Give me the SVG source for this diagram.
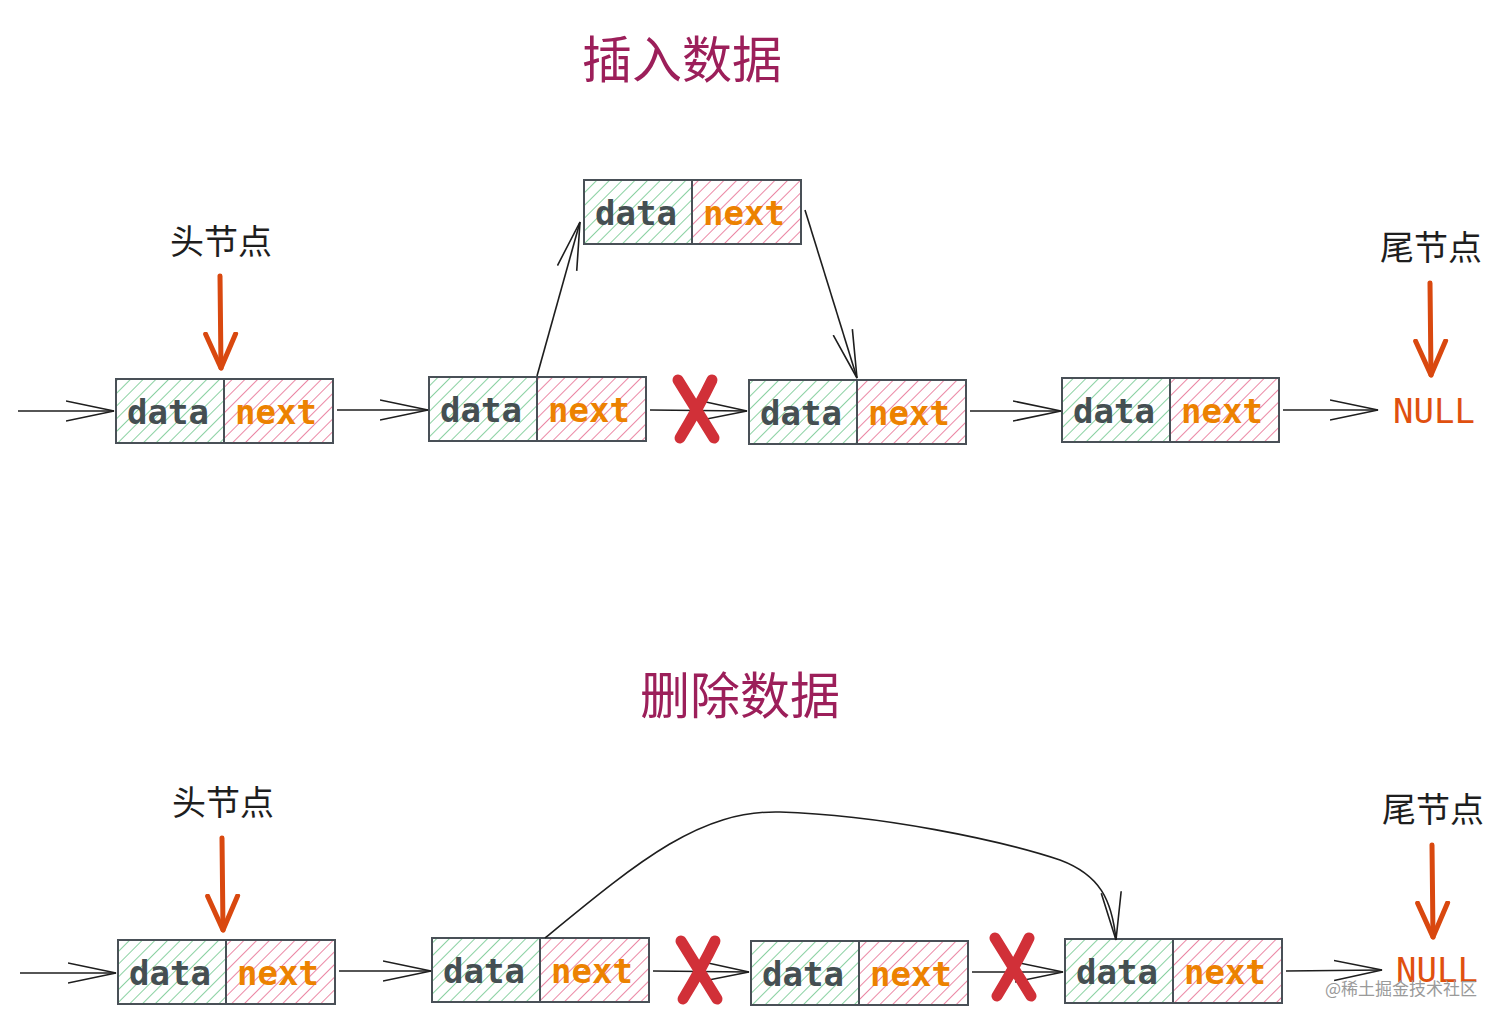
<svg xmlns="http://www.w3.org/2000/svg" width="1512" height="1024" viewBox="0 0 1512 1024">
<defs>
<pattern id="hg" width="9" height="9" patternUnits="userSpaceOnUse" patternTransform="rotate(45)"><rect width="9" height="9" fill="#fff"/><line x1="0" y1="0" x2="0" y2="9" stroke="#6cc68a" stroke-width="1.6"/></pattern>
<pattern id="hr" width="9" height="9" patternUnits="userSpaceOnUse" patternTransform="rotate(45)"><rect width="9" height="9" fill="#fff"/><line x1="0" y1="0" x2="0" y2="9" stroke="#e66a8e" stroke-width="1.6"/></pattern>
<marker id="a" markerWidth="50" markerHeight="40" refX="48" refY="20" orient="auto" markerUnits="userSpaceOnUse"><polyline points="0,10 48,20 0,30" fill="none" stroke="#1e1e1e" stroke-width="1.6"/></marker>
<marker id="h" markerWidth="40" markerHeight="40" refX="36" refY="20" orient="auto" markerUnits="userSpaceOnUse"><polyline points="2,5 36,20 2,35" fill="none" stroke="#d9480f" stroke-width="5" stroke-linecap="round" stroke-linejoin="round"/></marker>
</defs>
<style>
.d{fill:url(#hg);stroke:#495057;stroke-width:2}
.n{fill:url(#hr);stroke:#495057;stroke-width:2}
.td{font-family:"DejaVu Sans Mono",monospace;font-size:34px;font-weight:bold;fill:#454f52}
.tn{font-family:"DejaVu Sans Mono",monospace;font-size:34px;font-weight:bold;fill:#ec8200}
.c{fill:none;stroke:#1e1e1e;stroke-width:1.6}
.lbl{font-family:"Noto Sans CJK SC",sans-serif;font-size:34px;fill:#1e1e1e}
.title{font-family:"Noto Sans CJK SC",sans-serif;font-size:50px;fill:#9c1f5a}
.x{fill:none;stroke:#d13038;stroke-width:11;stroke-linecap:round}
.ha{fill:none;stroke:#d9480f;stroke-width:5;stroke-linecap:round}
</style>
<text class="title" x="582" y="78">插入数据</text>
<text class="title" x="640" y="714">删除数据</text>

<g id="t-head"><text class="lbl" x="170" y="254">头节点</text><line class="ha" x1="220" y1="276" x2="221" y2="368" marker-end="url(#h)"/></g>
<g id="t-tail"><text class="lbl" x="1380" y="260">尾节点</text><line class="ha" x1="1430" y1="283" x2="1431" y2="375" marker-end="url(#h)"/></g>
<g id="b-head"><text class="lbl" x="172" y="815">头节点</text><line class="ha" x1="222" y1="838" x2="223" y2="930" marker-end="url(#h)"/></g>
<g id="b-tail"><text class="lbl" x="1382" y="822">尾节点</text><line class="ha" x1="1432" y1="845" x2="1433" y2="937" marker-end="url(#h)"/></g>

<g id="t-n1"><rect class="d" x="116" y="379" width="108" height="64"/><rect class="n" x="224" y="379" width="109" height="64"/><text class="td" x="127" y="424">data</text><text class="tn" x="235" y="424">next</text></g>
<g id="t-n2"><rect class="d" x="429" y="377" width="108" height="64"/><rect class="n" x="537" y="377" width="109" height="64"/><text class="td" x="440" y="422">data</text><text class="tn" x="548" y="422">next</text></g>
<g id="t-n3"><rect class="d" x="749" y="380" width="108" height="64"/><rect class="n" x="857" y="380" width="109" height="64"/><text class="td" x="760" y="425">data</text><text class="tn" x="868" y="425">next</text></g>
<g id="t-n4"><rect class="d" x="1062" y="378" width="108" height="64"/><rect class="n" x="1170" y="378" width="109" height="64"/><text class="td" x="1073" y="423">data</text><text class="tn" x="1181" y="423">next</text></g>
<g id="t-new"><rect class="d" x="584" y="180" width="108" height="64"/><rect class="n" x="692" y="180" width="109" height="64"/><text class="td" x="595" y="225">data</text><text class="tn" x="703" y="225">next</text></g>
<g id="t-null"><text class="tn" x="1393" y="423" style="fill:#e0500f;font-weight:normal">NULL</text></g>

<g id="b-n1"><rect class="d" x="118" y="940" width="108" height="64"/><rect class="n" x="226" y="940" width="109" height="64"/><text class="td" x="129" y="985">data</text><text class="tn" x="237" y="985">next</text></g>
<g id="b-n2"><rect class="d" x="432" y="938" width="108" height="64"/><rect class="n" x="540" y="938" width="109" height="64"/><text class="td" x="443" y="983">data</text><text class="tn" x="551" y="983">next</text></g>
<g id="b-n3"><rect class="d" x="751" y="941" width="108" height="64"/><rect class="n" x="859" y="941" width="109" height="64"/><text class="td" x="762" y="986">data</text><text class="tn" x="870" y="986">next</text></g>
<g id="b-n4"><rect class="d" x="1065" y="939" width="108" height="64"/><rect class="n" x="1173" y="939" width="109" height="64"/><text class="td" x="1076" y="984">data</text><text class="tn" x="1184" y="984">next</text></g>
<g id="b-null"><text class="tn" x="1396" y="982" style="fill:#e0500f;font-weight:normal">NULL</text></g>

<g id="connectors">
<line class="c" x1="18" y1="411" x2="114" y2="411" marker-end="url(#a)"/>
<line class="c" x1="337" y1="410" x2="428" y2="410" marker-end="url(#a)"/>
<line class="c" x1="650" y1="410" x2="747" y2="411" marker-end="url(#a)"/>
<line class="c" x1="970" y1="411" x2="1061" y2="411" marker-end="url(#a)"/>
<line class="c" x1="1283" y1="410" x2="1378" y2="410" marker-end="url(#a)"/>
<line class="c" x1="537" y1="376" x2="580" y2="222" marker-end="url(#a)"/>
<line class="c" x1="805" y1="210" x2="857" y2="378" marker-end="url(#a)"/>
<line class="c" x1="20" y1="973" x2="116" y2="973" marker-end="url(#a)"/>
<line class="c" x1="339" y1="971" x2="431" y2="971" marker-end="url(#a)"/>
<line class="c" x1="653" y1="971" x2="749" y2="972" marker-end="url(#a)"/>
<line class="c" x1="972" y1="972" x2="1063" y2="972" marker-end="url(#a)"/>
<line class="c" x1="1286" y1="971" x2="1382" y2="970" marker-end="url(#a)"/>
<path class="c" d="M545,938 C640,860 700,810 780,812 C880,815 1000,840 1060,860 C1100,875 1112,900 1116,940" marker-end="url(#a)"/>
</g>
<g id="crosses">
<path class="x" d="M678,380 L714,438 M712,380 Q700,405 680,438"/>
<path class="x" d="M681,941 L717,999 M715,941 Q703,966 683,999"/>
<path class="x" d="M995,938 L1031,996 M1029,938 Q1017,963 997,996"/>
</g>
<text x="1325" y="995" style="font-family:'Noto Sans CJK SC',sans-serif;font-size:17px;fill:#9a9a9a">@稀土掘金技术社区</text>
</svg>
